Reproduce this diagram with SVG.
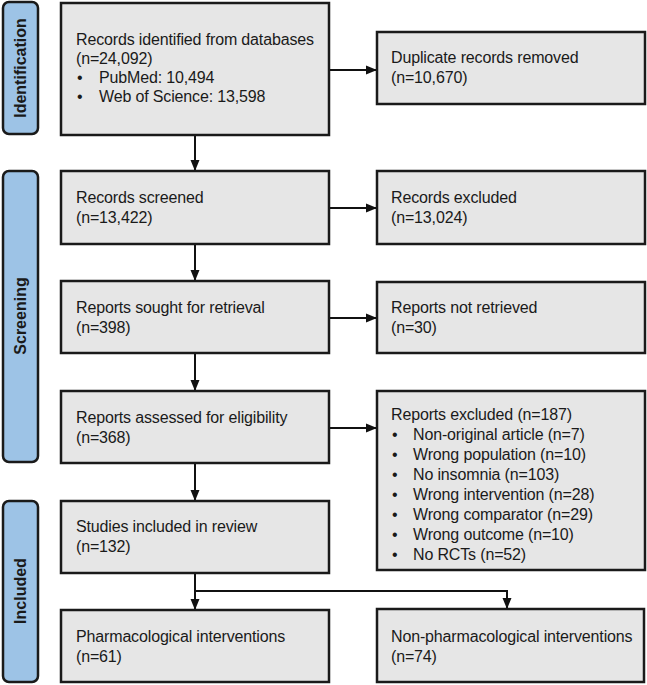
<svg xmlns="http://www.w3.org/2000/svg" width="647" height="685" viewBox="0 0 647 685">
  <style>
    .box { fill: #e6e6e6; stroke: #1a1a1a; stroke-width: 2.5; }
    .band { fill: #9dc3e6; stroke: #1a1a1a; stroke-width: 2.5; }
    .t { font-family: "Liberation Sans", Arial, sans-serif; font-size: 16px; letter-spacing: -0.15px; fill: #1a1a1a; }
    .bl { font-family: "Liberation Sans", Arial, sans-serif; font-size: 16px; font-weight: bold; fill: #1a1a1a; text-anchor: middle; }
    .c { fill: none; stroke: #111; stroke-width: 2; }
  </style>
  <defs>
    <marker id="ah" markerUnits="userSpaceOnUse" markerWidth="12" markerHeight="12" viewBox="0 0 12 12" refX="11" refY="6" orient="auto">
      <path d="M0,1.5 L11,6 L0,10.5 Z" fill="#111"/>
    </marker>
  </defs>
  <rect width="647" height="685" fill="#ffffff"/>

  <g id="band-identification">
    <rect class="band" x="3" y="2" width="35" height="132" rx="6"/>
    <text class="bl" transform="translate(26,68) rotate(-90)">Identification</text>
  </g>
  <g id="band-screening">
    <rect class="band" x="3" y="171" width="35" height="291" rx="6"/>
    <text class="bl" transform="translate(26,316) rotate(-90)">Screening</text>
  </g>
  <g id="band-included">
    <rect class="band" x="3" y="501" width="35" height="181" rx="6"/>
    <text class="bl" transform="translate(26,591) rotate(-90)">Included</text>
  </g>

  <g id="connectors">
    <line class="c" x1="329" y1="70" x2="377" y2="70" marker-end="url(#ah)"/>
    <line class="c" x1="195" y1="135" x2="195" y2="171" marker-end="url(#ah)"/>
    <line class="c" x1="329" y1="208" x2="377" y2="208" marker-end="url(#ah)"/>
    <line class="c" x1="195" y1="244" x2="195" y2="281" marker-end="url(#ah)"/>
    <line class="c" x1="329" y1="318" x2="377" y2="318" marker-end="url(#ah)"/>
    <line class="c" x1="195" y1="353" x2="195" y2="391" marker-end="url(#ah)"/>
    <line class="c" x1="329" y1="428" x2="377" y2="428" marker-end="url(#ah)"/>
    <line class="c" x1="195" y1="463" x2="195" y2="501" marker-end="url(#ah)"/>
    <line class="c" x1="195" y1="573" x2="195" y2="610" marker-end="url(#ah)"/>
    <path class="c" d="M195,591 H507 V609" marker-end="url(#ah)"/>
  </g>

  <g id="records-identified">
    <rect class="box" x="61" y="3" width="268" height="132"/>
    <text class="t" x="76" y="45">Records identified from databases</text>
    <text class="t" x="76" y="64">(n=24,092)</text>
    <text class="t" x="77" y="83">•</text>
    <text class="t" x="99" y="83">PubMed: 10,494</text>
    <text class="t" x="77" y="102">•</text>
    <text class="t" x="99" y="102">Web of Science: 13,598</text>
  </g>
  <g id="duplicates-removed">
    <rect class="box" x="377" y="32" width="268" height="72"/>
    <text class="t" x="391" y="63">Duplicate records removed</text>
    <text class="t" x="391" y="83">(n=10,670)</text>
  </g>
  <g id="records-screened">
    <rect class="box" x="61" y="171" width="268" height="73"/>
    <text class="t" x="76" y="203">Records screened</text>
    <text class="t" x="76" y="223">(n=13,422)</text>
  </g>
  <g id="records-excluded">
    <rect class="box" x="377" y="171" width="268" height="73"/>
    <text class="t" x="391" y="203">Records excluded</text>
    <text class="t" x="391" y="223">(n=13,024)</text>
  </g>
  <g id="reports-sought">
    <rect class="box" x="61" y="281" width="268" height="72"/>
    <text class="t" x="76" y="313">Reports sought for retrieval</text>
    <text class="t" x="76" y="333">(n=398)</text>
  </g>
  <g id="reports-not-retrieved">
    <rect class="box" x="377" y="282" width="268" height="71"/>
    <text class="t" x="391" y="313">Reports not retrieved</text>
    <text class="t" x="391" y="333">(n=30)</text>
  </g>
  <g id="reports-assessed">
    <rect class="box" x="61" y="391" width="268" height="72"/>
    <text class="t" x="76" y="423">Reports assessed for eligibility</text>
    <text class="t" x="76" y="443">(n=368)</text>
  </g>
  <g id="reports-excluded">
    <rect class="box" x="377" y="391" width="268" height="179"/>
    <text class="t" x="391" y="420">Reports excluded (n=187)</text>
    <text class="t" x="392" y="440">•</text><text class="t" x="413" y="440">Non-original article (n=7)</text>
    <text class="t" x="392" y="460">•</text><text class="t" x="413" y="460">Wrong population (n=10)</text>
    <text class="t" x="392" y="480">•</text><text class="t" x="413" y="480">No insomnia (n=103)</text>
    <text class="t" x="392" y="500">•</text><text class="t" x="413" y="500">Wrong intervention (n=28)</text>
    <text class="t" x="392" y="520">•</text><text class="t" x="413" y="520">Wrong comparator (n=29)</text>
    <text class="t" x="392" y="540">•</text><text class="t" x="413" y="540">Wrong outcome (n=10)</text>
    <text class="t" x="392" y="560">•</text><text class="t" x="413" y="560">No RCTs (n=52)</text>
  </g>
  <g id="studies-included">
    <rect class="box" x="61" y="501" width="268" height="72"/>
    <text class="t" x="76" y="532">Studies included in review</text>
    <text class="t" x="76" y="552">(n=132)</text>
  </g>
  <g id="pharmacological">
    <rect class="box" x="61" y="610" width="268" height="72"/>
    <text class="t" x="76" y="642">Pharmacological interventions</text>
    <text class="t" x="76" y="662">(n=61)</text>
  </g>
  <g id="non-pharmacological">
    <rect class="box" x="377" y="609" width="267" height="73"/>
    <text class="t" x="391" y="642">Non-pharmacological interventions</text>
    <text class="t" x="391" y="662">(n=74)</text>
  </g>
</svg>
